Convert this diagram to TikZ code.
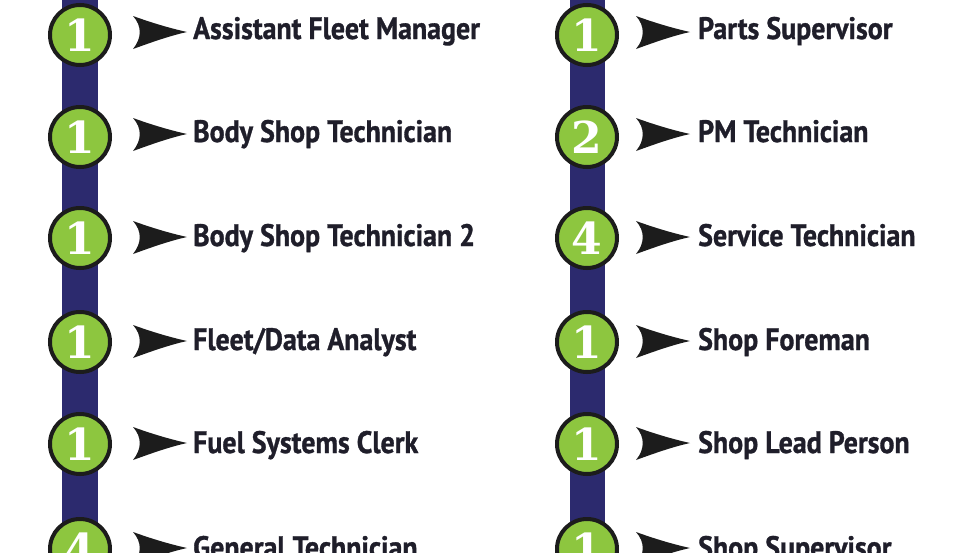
\documentclass[tikz,border=0pt]{standalone}
\usepackage{fontspec}
\setmainfont[FakeStretch=0.9, BoldFeatures={FakeBold=1}]{PT Sans}
\newfontfamily\digitfont{DejaVu Serif}
\usetikzlibrary{positioning}

\definecolor{barblue}{HTML}{2C2A6E}
\definecolor{countgreen}{HTML}{8DC63F}
\definecolor{ringblack}{HTML}{1C1C1C}
\definecolor{jobtext}{HTML}{1F1E2A}

\tikzset{
  count/.style={circle, fill=countgreen, draw=ringblack, line width=4pt,
    minimum size=60pt, inner sep=0pt, text=white,
    font=\digitfont\bfseries\fontsize{44}{44}\selectfont},
  job/.style={anchor=base west, inner sep=0pt, text=jobtext,
    font=\bfseries\fontsize{31}{31}\selectfont},
  pointer/.pic={
    \fill[ringblack] (0,0) .. controls (-18,-4) and (-36,-9.5) .. (-54,-16)
      .. controls (-45,-6) and (-45,6) .. (-54,17)
      .. controls (-36,10.5) and (-18,4) .. (0,0);
  }
}

\begin{document}
\begin{tikzpicture}[x=1pt, y=-1pt]
    \useasboundingbox (0,0) rectangle (980,552);
    % the two rails
    \fill[barblue] (62,0) rectangle (98,552);
    \fill[barblue] (570,0) rectangle (605,552);

    % left column
    \node[count] (n1) at (80,35) {1};
    \node[count] (n2) at (80,137) {1};
    \node[count] (n3) at (80,238) {1};
    \node[count] (n4) at (80,342) {1};
    \node[count] (n5) at (80,444) {1};
    \node[count] (n6) at (80,549) {4};
    \node[job] (j1) at (193,39) {Assistant Fleet Manager};
    \node[job] (j2) at (193,142) {Body Shop Technician};
    \node[job] (j3) at (193,246) {Body Shop Technician 2};
    \node[job] (j4) at (193,350) {Fleet/Data Analyst};
    \node[job] (j5) at (193,453) {Fuel Systems Clerk};
    \node[job] (j6) at (193,558) {General Technician};
    \pic at (187,32) {pointer};
    \pic at (187,134) {pointer};
    \pic at (187,237) {pointer};
    \pic at (187,341) {pointer};
    \pic at (187,443) {pointer};
    \pic at (187,548) {pointer};

    % right column
    \node[count] (m1) at (587,35) {1};
    \node[count] (m2) at (587,137) {2};
    \node[count] (m3) at (587,238) {4};
    \node[count] (m4) at (587,342) {1};
    \node[count] (m5) at (587,444) {1};
    \node[count] (m6) at (587,549) {1};
    \node[job] (k1) at (698,39) {Parts Supervisor};
    \node[job] (k2) at (698,142) {PM Technician};
    \node[job] (k3) at (698,246) {Service Technician};
    \node[job] (k4) at (698,350) {Shop Foreman};
    \node[job] (k5) at (698,453) {Shop Lead Person};
    \node[job] (k6) at (698,558) {Shop Supervisor};
    \pic at (690,32) {pointer};
    \pic at (690,134) {pointer};
    \pic at (690,237) {pointer};
    \pic at (690,341) {pointer};
    \pic at (690,443) {pointer};
    \pic at (690,548) {pointer};
\end{tikzpicture}
\end{document}
